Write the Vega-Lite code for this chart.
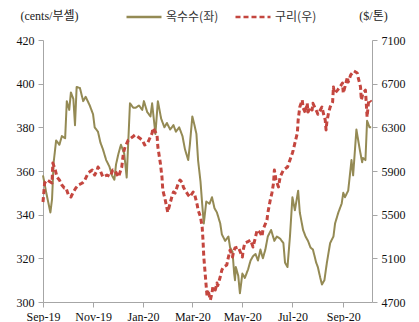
{
  "$schema": "https://vega.github.io/schema/vega-lite/v6.json",
  "width": 329,
  "height": 262,
  "autosize": "none",
  "padding": {"left": 43, "top": 40, "right": 47, "bottom": 20},
  "background": "white",
  "config": {
    "view": {"stroke": null},
    "axis": {
      "grid": false,
      "domainColor": "#a6a6a6",
      "tickColor": "#a6a6a6",
      "tickSize": 5,
      "labelFont": "Liberation Serif",
      "labelFontSize": 12,
      "labelColor": "#111111",
      "labelOverlap": false,
      "labelFlush": false,
      "titleFont": "Liberation Serif, Noto Sans CJK KR",
      "titleFontSize": 12,
      "titleFontWeight": "normal",
      "titleColor": "#222222"
    }
  },
  "datasets": {
    "corn": [
      {"date": "2019-09-01", "price": 358}, {"date": "2019-09-05", "price": 350}, {"date": "2019-09-10", "price": 341},
      {"date": "2019-09-12", "price": 347}, {"date": "2019-09-14", "price": 364}, {"date": "2019-09-17", "price": 374},
      {"date": "2019-09-21", "price": 372}, {"date": "2019-09-24", "price": 376}, {"date": "2019-09-28", "price": 375},
      {"date": "2019-09-30", "price": 392}, {"date": "2019-10-03", "price": 388}, {"date": "2019-10-05", "price": 396},
      {"date": "2019-10-08", "price": 393}, {"date": "2019-10-10", "price": 381}, {"date": "2019-10-12", "price": 398.5},
      {"date": "2019-10-16", "price": 398}, {"date": "2019-10-20", "price": 392}, {"date": "2019-10-23", "price": 394},
      {"date": "2019-10-28", "price": 390}, {"date": "2019-11-01", "price": 386}, {"date": "2019-11-03", "price": 380},
      {"date": "2019-11-07", "price": 378}, {"date": "2019-11-10", "price": 373}, {"date": "2019-11-13", "price": 370},
      {"date": "2019-11-17", "price": 365}, {"date": "2019-11-21", "price": 362}, {"date": "2019-11-24", "price": 358},
      {"date": "2019-11-27", "price": 356}, {"date": "2019-11-29", "price": 363}, {"date": "2019-12-02", "price": 368},
      {"date": "2019-12-05", "price": 372}, {"date": "2019-12-09", "price": 368}, {"date": "2019-12-12", "price": 357},
      {"date": "2019-12-16", "price": 391}, {"date": "2019-12-20", "price": 389}, {"date": "2019-12-23", "price": 389},
      {"date": "2019-12-27", "price": 390}, {"date": "2019-12-31", "price": 388}, {"date": "2020-01-02", "price": 392},
      {"date": "2020-01-06", "price": 387}, {"date": "2020-01-10", "price": 385}, {"date": "2020-01-12", "price": 391},
      {"date": "2020-01-16", "price": 377}, {"date": "2020-01-19", "price": 392}, {"date": "2020-01-23", "price": 384},
      {"date": "2020-01-27", "price": 380}, {"date": "2020-01-30", "price": 382}, {"date": "2020-02-03", "price": 379},
      {"date": "2020-02-07", "price": 381}, {"date": "2020-02-10", "price": 378}, {"date": "2020-02-14", "price": 380},
      {"date": "2020-02-18", "price": 376}, {"date": "2020-02-21", "price": 370}, {"date": "2020-02-25", "price": 365},
      {"date": "2020-02-27", "price": 372}, {"date": "2020-03-01", "price": 385}, {"date": "2020-03-03", "price": 382},
      {"date": "2020-03-06", "price": 377}, {"date": "2020-03-08", "price": 365}, {"date": "2020-03-11", "price": 355},
      {"date": "2020-03-13", "price": 345}, {"date": "2020-03-15", "price": 336}, {"date": "2020-03-18", "price": 346},
      {"date": "2020-03-22", "price": 345}, {"date": "2020-03-25", "price": 348}, {"date": "2020-03-28", "price": 343},
      {"date": "2020-03-31", "price": 341}, {"date": "2020-04-04", "price": 336}, {"date": "2020-04-06", "price": 331},
      {"date": "2020-04-10", "price": 328}, {"date": "2020-04-14", "price": 330}, {"date": "2020-04-16", "price": 325},
      {"date": "2020-04-19", "price": 323}, {"date": "2020-04-21", "price": 313}, {"date": "2020-04-22", "price": 310},
      {"date": "2020-04-23", "price": 316}, {"date": "2020-04-26", "price": 312}, {"date": "2020-04-28", "price": 304},
      {"date": "2020-05-01", "price": 313}, {"date": "2020-05-04", "price": 311}, {"date": "2020-05-08", "price": 315},
      {"date": "2020-05-11", "price": 319}, {"date": "2020-05-14", "price": 321}, {"date": "2020-05-17", "price": 322},
      {"date": "2020-05-20", "price": 319}, {"date": "2020-05-23", "price": 324}, {"date": "2020-05-26", "price": 320},
      {"date": "2020-05-29", "price": 324}, {"date": "2020-06-01", "price": 330}, {"date": "2020-06-05", "price": 333},
      {"date": "2020-06-09", "price": 328}, {"date": "2020-06-12", "price": 330}, {"date": "2020-06-16", "price": 329},
      {"date": "2020-06-20", "price": 327}, {"date": "2020-06-22", "price": 318}, {"date": "2020-06-25", "price": 316},
      {"date": "2020-06-28", "price": 330}, {"date": "2020-07-01", "price": 348}, {"date": "2020-07-04", "price": 342},
      {"date": "2020-07-08", "price": 351}, {"date": "2020-07-10", "price": 341}, {"date": "2020-07-14", "price": 333},
      {"date": "2020-07-17", "price": 330}, {"date": "2020-07-20", "price": 328}, {"date": "2020-07-23", "price": 325},
      {"date": "2020-07-26", "price": 324}, {"date": "2020-07-30", "price": 318}, {"date": "2020-08-01", "price": 316},
      {"date": "2020-08-04", "price": 311}, {"date": "2020-08-06", "price": 308}, {"date": "2020-08-09", "price": 310},
      {"date": "2020-08-12", "price": 318}, {"date": "2020-08-16", "price": 327}, {"date": "2020-08-20", "price": 330},
      {"date": "2020-08-22", "price": 336}, {"date": "2020-08-26", "price": 341}, {"date": "2020-08-30", "price": 345},
      {"date": "2020-09-01", "price": 350}, {"date": "2020-09-03", "price": 348}, {"date": "2020-09-07", "price": 351},
      {"date": "2020-09-11", "price": 365}, {"date": "2020-09-13", "price": 358}, {"date": "2020-09-17", "price": 379},
      {"date": "2020-09-21", "price": 370}, {"date": "2020-09-24", "price": 364}, {"date": "2020-09-25", "price": 366},
      {"date": "2020-09-28", "price": 365}, {"date": "2020-09-30", "price": 383}, {"date": "2020-10-03", "price": 380},
      {"date": "2020-10-05", "price": 380}
    ],
    "copper": [
      {"date": "2019-09-01", "price": 5616}, {"date": "2019-09-03", "price": 5790}, {"date": "2019-09-06", "price": 5818},
      {"date": "2019-09-10", "price": 5800}, {"date": "2019-09-12", "price": 5790}, {"date": "2019-09-13", "price": 5973},
      {"date": "2019-09-16", "price": 5909}, {"date": "2019-09-18", "price": 5845}, {"date": "2019-09-21", "price": 5818},
      {"date": "2019-09-24", "price": 5772}, {"date": "2019-09-27", "price": 5744}, {"date": "2019-09-29", "price": 5744},
      {"date": "2019-10-02", "price": 5680}, {"date": "2019-10-05", "price": 5662}, {"date": "2019-10-08", "price": 5708},
      {"date": "2019-10-11", "price": 5744}, {"date": "2019-10-14", "price": 5772}, {"date": "2019-10-19", "price": 5790},
      {"date": "2019-10-22", "price": 5818}, {"date": "2019-10-26", "price": 5882}, {"date": "2019-10-31", "price": 5909},
      {"date": "2019-11-03", "price": 5863}, {"date": "2019-11-06", "price": 5909}, {"date": "2019-11-07", "price": 5936},
      {"date": "2019-11-10", "price": 5900}, {"date": "2019-11-13", "price": 5845}, {"date": "2019-11-18", "price": 5863},
      {"date": "2019-11-22", "price": 5850}, {"date": "2019-11-25", "price": 5909}, {"date": "2019-11-28", "price": 5900},
      {"date": "2019-12-02", "price": 5845}, {"date": "2019-12-06", "price": 5936}, {"date": "2019-12-08", "price": 6065},
      {"date": "2019-12-10", "price": 6120}, {"date": "2019-12-14", "price": 6184}, {"date": "2019-12-19", "price": 6211},
      {"date": "2019-12-22", "price": 6230}, {"date": "2019-12-26", "price": 6211}, {"date": "2019-12-31", "price": 6184},
      {"date": "2020-01-03", "price": 6138}, {"date": "2020-01-07", "price": 6165}, {"date": "2020-01-12", "price": 6248},
      {"date": "2020-01-13", "price": 6294}, {"date": "2020-01-16", "price": 6257}, {"date": "2020-01-18", "price": 6230},
      {"date": "2020-01-19", "price": 6120}, {"date": "2020-01-22", "price": 5973}, {"date": "2020-01-24", "price": 5845},
      {"date": "2020-01-25", "price": 5726}, {"date": "2020-01-28", "price": 5634}, {"date": "2020-01-30", "price": 5561},
      {"date": "2020-01-31", "price": 5524}, {"date": "2020-02-03", "price": 5607}, {"date": "2020-02-05", "price": 5662},
      {"date": "2020-02-07", "price": 5708}, {"date": "2020-02-09", "price": 5698}, {"date": "2020-02-11", "price": 5744},
      {"date": "2020-02-13", "price": 5790}, {"date": "2020-02-15", "price": 5818}, {"date": "2020-02-18", "price": 5790},
      {"date": "2020-02-19", "price": 5754}, {"date": "2020-02-21", "price": 5726}, {"date": "2020-02-25", "price": 5680},
      {"date": "2020-02-27", "price": 5662}, {"date": "2020-03-02", "price": 5708}, {"date": "2020-03-04", "price": 5680},
      {"date": "2020-03-07", "price": 5588}, {"date": "2020-03-08", "price": 5543}, {"date": "2020-03-11", "price": 5479},
      {"date": "2020-03-13", "price": 5387}, {"date": "2020-03-14", "price": 5268}, {"date": "2020-03-15", "price": 5112},
      {"date": "2020-03-17", "price": 4929}, {"date": "2020-03-18", "price": 4837}, {"date": "2020-03-19", "price": 4746},
      {"date": "2020-03-20", "price": 4810}, {"date": "2020-03-23", "price": 4718}, {"date": "2020-03-25", "price": 4782},
      {"date": "2020-03-26", "price": 4837}, {"date": "2020-03-29", "price": 4810}, {"date": "2020-03-31", "price": 4874},
      {"date": "2020-04-01", "price": 4850}, {"date": "2020-04-04", "price": 4929}, {"date": "2020-04-06", "price": 4993},
      {"date": "2020-04-08", "price": 5020}, {"date": "2020-04-12", "price": 5039}, {"date": "2020-04-14", "price": 5112},
      {"date": "2020-04-16", "price": 5176}, {"date": "2020-04-19", "price": 5112}, {"date": "2020-04-20", "price": 5150},
      {"date": "2020-04-22", "price": 5195}, {"date": "2020-04-26", "price": 5204}, {"date": "2020-05-01", "price": 5112},
      {"date": "2020-05-02", "price": 5176}, {"date": "2020-05-04", "price": 5240}, {"date": "2020-05-07", "price": 5250},
      {"date": "2020-05-11", "price": 5268}, {"date": "2020-05-14", "price": 5204}, {"date": "2020-05-17", "price": 5295},
      {"date": "2020-05-19", "price": 5360}, {"date": "2020-05-23", "price": 5332}, {"date": "2020-05-25", "price": 5300},
      {"date": "2020-05-26", "price": 5360}, {"date": "2020-05-31", "price": 5451}, {"date": "2020-06-01", "price": 5515},
      {"date": "2020-06-04", "price": 5634}, {"date": "2020-06-06", "price": 5698}, {"date": "2020-06-08", "price": 5790},
      {"date": "2020-06-09", "price": 5909}, {"date": "2020-06-11", "price": 5818}, {"date": "2020-06-14", "price": 5754},
      {"date": "2020-06-16", "price": 5845}, {"date": "2020-06-20", "price": 5909}, {"date": "2020-06-25", "price": 5936},
      {"date": "2020-06-28", "price": 6001}, {"date": "2020-07-01", "price": 6065}, {"date": "2020-07-02", "price": 6092},
      {"date": "2020-07-04", "price": 6156}, {"date": "2020-07-07", "price": 6248}, {"date": "2020-07-08", "price": 6367},
      {"date": "2020-07-10", "price": 6486}, {"date": "2020-07-13", "price": 6550}, {"date": "2020-07-14", "price": 6480},
      {"date": "2020-07-17", "price": 6431}, {"date": "2020-07-19", "price": 6523}, {"date": "2020-07-20", "price": 6440},
      {"date": "2020-07-23", "price": 6486}, {"date": "2020-07-25", "price": 6459}, {"date": "2020-07-26", "price": 6520},
      {"date": "2020-07-29", "price": 6470}, {"date": "2020-07-31", "price": 6440}, {"date": "2020-08-01", "price": 6420},
      {"date": "2020-08-06", "price": 6486}, {"date": "2020-08-08", "price": 6420}, {"date": "2020-08-10", "price": 6367},
      {"date": "2020-08-11", "price": 6276}, {"date": "2020-08-12", "price": 6350}, {"date": "2020-08-14", "price": 6431},
      {"date": "2020-08-16", "price": 6486}, {"date": "2020-08-19", "price": 6532}, {"date": "2020-08-20", "price": 6670},
      {"date": "2020-08-21", "price": 6614}, {"date": "2020-08-22", "price": 6614}, {"date": "2020-08-25", "price": 6641},
      {"date": "2020-08-28", "price": 6670}, {"date": "2020-08-31", "price": 6706}, {"date": "2020-09-01", "price": 6614},
      {"date": "2020-09-03", "price": 6670}, {"date": "2020-09-06", "price": 6761}, {"date": "2020-09-07", "price": 6715},
      {"date": "2020-09-10", "price": 6779}, {"date": "2020-09-12", "price": 6798}, {"date": "2020-09-14", "price": 6816},
      {"date": "2020-09-18", "price": 6798}, {"date": "2020-09-19", "price": 6761}, {"date": "2020-09-22", "price": 6670},
      {"date": "2020-09-23", "price": 6550}, {"date": "2020-09-25", "price": 6614}, {"date": "2020-09-28", "price": 6641},
      {"date": "2020-09-29", "price": 6523}, {"date": "2020-09-30", "price": 6394}, {"date": "2020-10-02", "price": 6550},
      {"date": "2020-10-03", "price": 6550}, {"date": "2020-10-05", "price": 6532}
    ]
  },
  "layer": [
    {
      "data": {"name": "corn"},
      "mark": {"type": "line", "strokeWidth": 2, "strokeJoin": "round"},
      "encoding": {
        "x": {
          "field": "date",
          "type": "temporal",
          "scale": {
            "type": "utc",
            "domain": [
              {"year": 2019, "month": 9, "date": 1, "utc": true},
              {"year": 2020, "month": 10, "date": 6, "utc": true}
            ]
          },
          "axis": {
            "title": null,
            "format": "%b-%y",
            "labelPadding": 4,
            "values": [
              {"year": 2019, "month": 9, "date": 1, "utc": true},
              {"year": 2019, "month": 11, "date": 1, "utc": true},
              {"year": 2020, "month": 1, "date": 1, "utc": true},
              {"year": 2020, "month": 3, "date": 1, "utc": true},
              {"year": 2020, "month": 5, "date": 1, "utc": true},
              {"year": 2020, "month": 7, "date": 1, "utc": true},
              {"year": 2020, "month": 9, "date": 1, "utc": true}
            ]
          }
        },
        "y": {
          "field": "price",
          "type": "quantitative",
          "scale": {"domain": [300, 420], "nice": false, "zero": false},
          "axis": {
            "orient": "left",
            "values": [300, 320, 340, 360, 380, 400, 420],
            "labelPadding": 4,
            "title": "(cents/부셸)",
            "titleAngle": 0,
            "titleAlign": "center",
            "titleBaseline": "middle",
            "titleX": 6,
            "titleY": -25
          }
        },
        "color": {
          "datum": "옥수수(좌)",
          "type": "nominal",
          "scale": {"domain": ["옥수수(좌)", "구리(우)"], "range": ["#948a54", "#c4463f"]},
          "legend": {
            "title": null,
            "orient": "none",
            "direction": "horizontal",
            "legendX": 82,
            "legendY": -42,
            "symbolType": "stroke",
            "symbolSize": 1225,
            "symbolStrokeWidth": 2.5,
            "labelFont": "Noto Sans CJK KR",
            "labelFontSize": 12,
            "labelColor": "#333333",
            "labelOffset": 3,
            "columnPadding": 11,
            "padding": 0
          }
        },
        "strokeDash": {
          "datum": "옥수수(좌)",
          "type": "nominal",
          "scale": {"domain": ["옥수수(좌)", "구리(우)"], "range": [[1, 0], [5, 3]]},
          "legend": null
        }
      }
    },
    {
      "data": {"name": "copper"},
      "mark": {"type": "line", "strokeWidth": 3, "strokeJoin": "round"},
      "encoding": {
        "x": {"field": "date", "type": "temporal"},
        "y": {
          "field": "price",
          "type": "quantitative",
          "scale": {"domain": [4700, 7100], "nice": false, "zero": false},
          "axis": {
            "orient": "right",
            "values": [4700, 5100, 5500, 5900, 6300, 6700, 7100],
            "format": "d",
            "labelPadding": 4,
            "title": "($/톤)",
            "titleAngle": 0,
            "titleAlign": "center",
            "titleBaseline": "middle",
            "titleX": 1,
            "titleY": -25
          }
        },
        "color": {"datum": "구리(우)", "type": "nominal"},
        "strokeDash": {"datum": "구리(우)", "type": "nominal"}
      }
    }
  ],
  "resolve": {"scale": {"y": "independent"}}
}
